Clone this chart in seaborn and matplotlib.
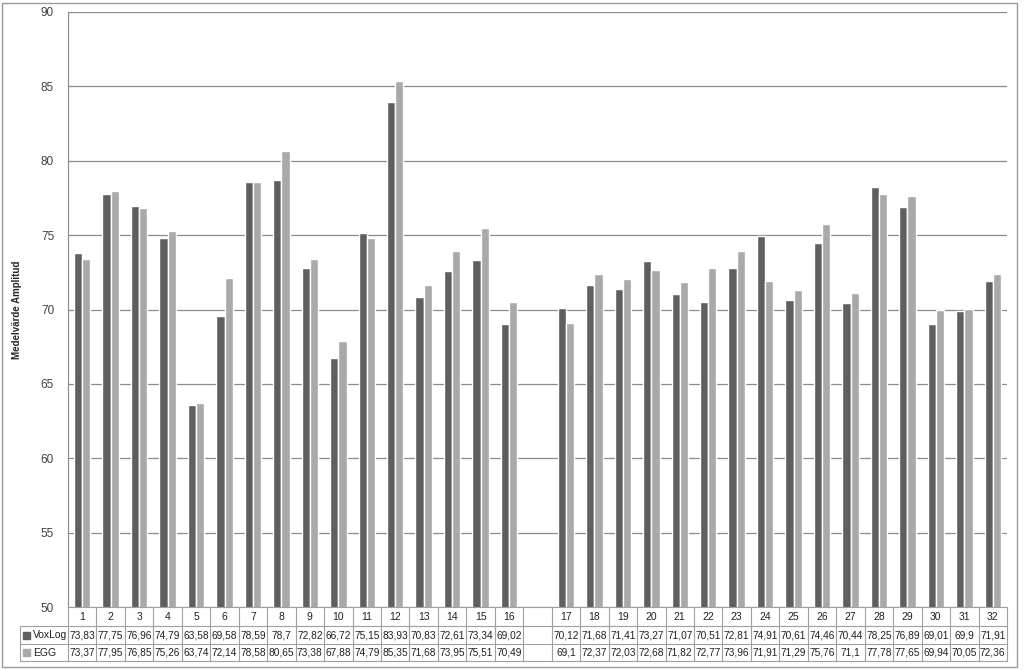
import numpy as np
import pandas as pd
import matplotlib
matplotlib.use("Agg")
import matplotlib.pyplot as plt
import matplotlib.transforms as mtrans
from matplotlib.patches import Rectangle
import seaborn as sns

# Datos del gráfico
categorias = [str(i) for i in range(1, 17)] + [""] + [str(i) for i in range(17, 33)]
voxlog = [73.83, 77.75, 76.96, 74.79, 63.58, 69.58, 78.59, 78.7, 72.82, 66.72, 75.15, 83.93, 70.83, 72.61, 73.34, 69.02,
          np.nan,
          70.12, 71.68, 71.41, 73.27, 71.07, 70.51, 72.81, 74.91, 70.61, 74.46, 70.44, 78.25, 76.89, 69.01, 69.9, 71.91]
egg = [73.37, 77.95, 76.85, 75.26, 63.74, 72.14, 78.58, 80.65, 73.38, 67.88, 74.79, 85.35, 71.68, 73.95, 75.51, 70.49,
       np.nan,
       69.1, 72.37, 72.03, 72.68, 71.82, 72.77, 73.96, 71.91, 71.29, 75.76, 71.1, 77.78, 77.65, 69.94, 70.05, 72.36]
series = ["VoxLog", "EGG"]
colores = ["#5f5f5f", "#a9a9a9"]
y_ticks = [50, 55, 60, 65, 70, 75, 80, 85, 90]

df = pd.DataFrame({
    "categoria": categorias * 2,
    "serie": ["VoxLog"] * len(categorias) + ["EGG"] * len(categorias),
    "valor": voxlog + egg,
})

sns.set_style("white")
plt.rcParams["font.family"] = ["Liberation Sans", "DejaVu Sans"]

W, H = 1024, 670
fig = plt.figure(figsize=(W / 100, H / 100), dpi=100)
ax = fig.add_axes([68 / W, 1 - 607 / H, (1007 - 68) / W, (607 - 12) / H])

sns.barplot(data=df, x="categoria", y="valor", hue="serie", order=categorias,
            hue_order=series, palette=colores, width=0.58, gap=0, saturation=1,
            errorbar=None, ax=ax, legend=False, zorder=3)

ax.set_ylim(50, 90)
ax.set_xlim(-0.5, len(categorias) - 0.5)
ax.set_yticks(y_ticks)
ax.set_yticklabels([str(t) for t in y_ticks], fontsize=8.5, color="#404040")
ax.tick_params(axis="y", length=0, pad=10)
ax.set_xticks([])
ax.set_xlabel("")
ax.set_ylabel("Medelvärde Amplitud", fontsize=7, fontweight="bold")
ax.yaxis.set_label_coords((22 - 68) / (1007 - 68), 0.5)
ax.yaxis.grid(True, color="#8a8a8a", linewidth=0.9, zorder=0)
for s in ["top", "right", "bottom"]:
    ax.spines[s].set_visible(False)
ax.spines["left"].set_color("#8a8a8a")

# Tabla de datos bajo el gráfico
linea = "#a0a0a0"
trans = mtrans.blended_transform_factory(ax.transData, fig.transFigure)
filas_y = [1 - 607 / H, 1 - 626 / H, 1 - 644 / H, 1 - 661 / H]
n = len(categorias)

def fmt(v):
    if np.isnan(v):
        return ""
    return f"{v:g}".replace(".", ",")

for i, cat in enumerate(categorias):
    ax.text(i, (filas_y[0] + filas_y[1]) / 2, cat, transform=trans, ha="center", va="center",
            fontsize=7.5, color="#202020")
    ax.text(i, (filas_y[1] + filas_y[2]) / 2, fmt(voxlog[i]), transform=trans, ha="center", va="center",
            fontsize=7.3, color="#202020")
    ax.text(i, (filas_y[2] + filas_y[3]) / 2, fmt(egg[i]), transform=trans, ha="center", va="center",
            fontsize=7.3, color="#202020")

# lineas verticales de la tabla
for i in range(n + 1):
    ax.plot([i - 0.5, i - 0.5], [filas_y[0], filas_y[3]], transform=trans, color=linea,
            linewidth=0.8, clip_on=False)
# lineas horizontales
x_izq = 20 / W
x_der = 1007 / W
fig.add_artist(plt.Line2D([68 / W, x_der], [filas_y[0], filas_y[0]], color=linea, linewidth=0.8))
for y in filas_y[1:]:
    fig.add_artist(plt.Line2D([x_izq, x_der], [y, y], color=linea, linewidth=0.8))
fig.add_artist(plt.Line2D([x_izq, x_izq], [filas_y[1], filas_y[3]], color=linea, linewidth=0.8))

# leyenda en la tabla
for k, (nombre, col) in enumerate(zip(series, colores)):
    yc = (filas_y[k + 1] + filas_y[k + 2]) / 2
    fig.add_artist(Rectangle((23 / W, yc - 3.5 / H), 7 / W, 7 / H, color=col, transform=fig.transFigure))
    fig.text(33 / W, yc, nombre, ha="left", va="center", fontsize=7.5, color="#202020")

# borde exterior del gráfico
fig.add_artist(Rectangle((2 / W, 3 / H), (1017 - 2) / W, (667 - 3) / H, fill=False,
                         edgecolor="#9a9a9a", linewidth=1.0, transform=fig.transFigure))

fig.savefig("out.png", dpi=100)
